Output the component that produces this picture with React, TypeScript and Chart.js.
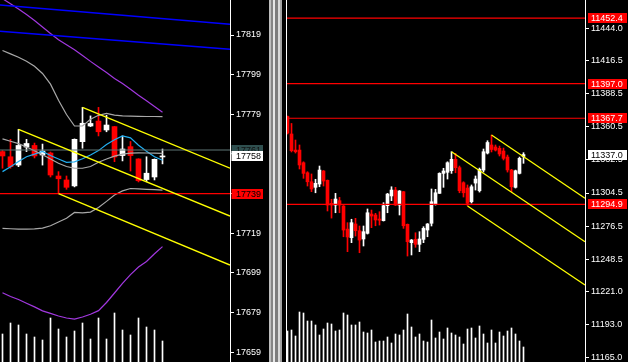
import React, { useEffect, useRef } from "react";
import { Chart, registerables } from "chart.js";

Chart.register(...registerables);

// ---------------- Left pane (17xxx) ----------------
const leftOpen = [17760.2, 17757.6, 17753.4, 17762.5, 17763.3, 17758.5, 17759.5, 17747.9, 17745.9, 17742.9, 17765.2, 17773.1, 17775.6, 17771.1, 17772.8, 17758.2, 17762.7, 17756.5, 17746.1, 17747.4, 17757.5];
const leftHigh = [17760.7, 17766.4, 17771.4, 17766.4, 17764.5, 17764.0, 17760.0, 17750.1, 17747.9, 17766.6, 17782.5, 17778.2, 17782.5, 17778.5, 17772.9, 17768.1, 17765.3, 17756.6, 17757.6, 17756.5, 17761.5];
const leftLow = [17751.8, 17751.8, 17752.6, 17760.2, 17757.0, 17753.4, 17747.4, 17739.0, 17741.2, 17742.4, 17761.9, 17772.8, 17768.1, 17770.2, 17755.1, 17755.5, 17750.4, 17744.9, 17745.0, 17745.9, 17754.0];
const leftClose = [17758.0, 17752.6, 17763.3, 17764.3, 17758.0, 17760.5, 17748.4, 17746.5, 17742.2, 17766.4, 17774.5, 17774.4, 17770.2, 17773.6, 17757.5, 17761.5, 17758.2, 17745.5, 17749.3, 17756.3, 17758.0];
const leftVolume = [280, 390, 370, 280, 250, 220, 440, 330, 250, 310, 390, 230, 440, 230, 490, 320, 270, 440, 350, 320, 210];
const leftCyan = [17750.1, 17752.6, 17755.2, 17757.6, 17758.9, 17760.3, 17758.2, 17756.5, 17754.8, 17755.0, 17756.6, 17758.5, 17760.7, 17763.8, 17766.2, 17768.1, 17767.1, 17763.4, 17760.4, 17757.6, 17755.8];
const leftGrayMid = [17766.6, 17765.4, 17764.2, 17762.5, 17760.6, 17758.6, 17756.5, 17754.3, 17752.7, 17751.8, 17751.8, 17752.7, 17754.8, 17756.5, 17757.9, 17758.9, 17759.4, 17759.6, 17759.5, 17759.4, 17759.3];
const leftGrayUp = [17811.2, 17809.5, 17807.8, 17805.8, 17803.2, 17799.6, 17794.2, 17786.1, 17778.9, 17773.1, 17773.1, 17776.5, 17778.5, 17779.5, 17778.6, 17778.2, 17778.1, 17778.0, 17777.9, 17777.9, 17777.8];
const leftGrayLow = [17721.5, 17721.3, 17721.1, 17721.1, 17721.2, 17721.6, 17722.8, 17724.7, 17726.6, 17729.5, 17729.3, 17729.7, 17732.0, 17735.1, 17738.3, 17740.4, 17741.6, 17741.4, 17741.2, 17741.0, 17740.8];
const leftPurpleUp = [17837.3, 17834.8, 17832.1, 17829.3, 17826.3, 17823.0, 17819.8, 17816.6, 17814.1, 17811.6, 17808.7, 17805.7, 17802.9, 17800.1, 17797.1, 17794.5, 17791.6, 17788.6, 17785.9, 17783.0, 17780.0];
const leftPurpleLow = [17689.0, 17687.1, 17685.6, 17683.7, 17681.9, 17679.9, 17678.6, 17677.3, 17676.3, 17675.7, 17676.8, 17678.2, 17680.0, 17684.1, 17688.9, 17693.8, 17698.2, 17702.0, 17704.8, 17708.7, 17712.3];
const leftBlueStart = [17834.1, 17820.9];
const leftBlueEnd = [17824.4, 17811.8];
const leftTicks = [17659, 17679, 17699, 17719, 17739, 17759, 17779, 17799, 17819];
const leftChannelStartIndex = [2, 7, 10];
const leftChannelStartPrice = [17771.4, 17739.0, 17782.5];
const leftChannelEndPrice = [17727.7, 17703.0, 17751.8];
const leftLevelPrices = [17761, 17739];
const leftLevelColors = ["#5e7676", "#ff0000"];
const leftBoxPrices = [17761, 17758, 17739];
const leftBoxBg = ["#2f4f4f", "#ffffff", "#ff0000"];
const leftBoxFg = ["#111111", "#000000", "#000000"];

// ---------------- Right pane (11xxx) ----------------
const rightOpen = [11369.2, 11354.4, 11340.8, 11340.8, 11330.1, 11321.6, 11314.0, 11309.3, 11312.1, 11323.1, 11315.2, 11295.8, 11294.3, 11298.0, 11293.5, 11274.0, 11266.7, 11278.3, 11272.6, 11265.6, 11270.4, 11286.7, 11285.9, 11282.5, 11281.1, 11293.8, 11302.0, 11307.0, 11294.3, 11305.6, 11278.0, 11262.5, 11265.3, 11261.1, 11265.3, 11273.2, 11278.9, 11295.2, 11304.2, 11321.1, 11322.0, 11323.4, 11333.0, 11325.9, 11313.2, 11308.7, 11297.1, 11312.9, 11306.4, 11323.9, 11338.3, 11345.1, 11343.4, 11342.3, 11340.0, 11334.9, 11323.9, 11309.3, 11321.1, 11335.4];
const rightHigh = [11369.6, 11363.3, 11349.3, 11345.1, 11330.9, 11322.5, 11320.6, 11316.1, 11327.3, 11323.5, 11315.5, 11299.2, 11304.2, 11300.8, 11293.9, 11279.4, 11282.3, 11283.1, 11276.6, 11276.6, 11291.0, 11290.1, 11287.3, 11288.7, 11296.3, 11304.2, 11309.8, 11309.3, 11306.6, 11305.8, 11278.3, 11265.2, 11270.9, 11271.8, 11276.0, 11278.7, 11307.9, 11307.6, 11321.6, 11325.4, 11330.9, 11339.4, 11338.0, 11327.3, 11314.0, 11311.3, 11311.3, 11318.9, 11325.6, 11341.7, 11348.7, 11353.5, 11345.1, 11344.2, 11342.5, 11336.6, 11324.5, 11323.9, 11334.9, 11338.6];
const rightLow = [11354.4, 11339.2, 11338.3, 11324.8, 11316.9, 11310.4, 11305.6, 11304.7, 11309.8, 11310.4, 11289.3, 11283.3, 11287.8, 11287.8, 11267.5, 11254.9, 11262.5, 11268.1, 11254.0, 11259.7, 11269.8, 11275.2, 11276.8, 11277.4, 11280.8, 11287.8, 11298.0, 11293.9, 11285.9, 11274.6, 11251.2, 11252.1, 11258.6, 11254.9, 11262.5, 11267.5, 11276.6, 11294.3, 11304.1, 11309.3, 11316.3, 11321.1, 11321.6, 11304.7, 11301.1, 11293.9, 11296.0, 11307.0, 11305.3, 11322.2, 11337.5, 11339.2, 11340.0, 11335.8, 11332.4, 11322.2, 11305.6, 11308.7, 11320.6, 11329.6];
const rightClose = [11355.2, 11340.3, 11339.4, 11328.2, 11321.1, 11314.0, 11307.9, 11312.7, 11323.9, 11314.6, 11294.3, 11294.3, 11299.4, 11294.3, 11273.2, 11267.3, 11279.4, 11272.6, 11264.7, 11271.8, 11287.8, 11285.0, 11281.7, 11281.5, 11293.8, 11303.6, 11307.0, 11294.3, 11306.2, 11276.8, 11263.3, 11264.7, 11261.1, 11265.6, 11274.6, 11278.3, 11297.1, 11304.7, 11321.1, 11323.1, 11330.1, 11333.0, 11325.9, 11306.4, 11304.7, 11295.8, 11309.8, 11316.3, 11324.5, 11339.4, 11347.2, 11341.3, 11340.8, 11337.5, 11333.8, 11324.0, 11309.8, 11323.3, 11333.8, 11337.0];
const rightVolume = [310, 320, 260, 500, 490, 410, 410, 370, 270, 330, 390, 380, 310, 320, 490, 470, 370, 370, 400, 300, 290, 320, 200, 210, 210, 250, 190, 280, 270, 320, 480, 350, 250, 280, 210, 200, 420, 240, 300, 230, 340, 290, 270, 250, 180, 330, 340, 240, 360, 280, 190, 320, 190, 300, 260, 310, 340, 280, 210, 150];
const rightTicks = [11165.0, 11193.0, 11221.0, 11248.5, 11276.5, 11304.5, 11332.5, 11360.5, 11388.5, 11416.5, 11444.0];
const rightChannelStartIndex = [41, 51, 45];
const rightChannelStartPrice = [11339.4, 11353.5, 11293.5];
const rightChannelEndPrice = [11263.3, 11300.0, 11226.7];
const rightLevelPrices = [11452.4, 11397.0, 11367.7, 11294.9];
const rightBoxPrices = [11452.4, 11397.0, 11367.7, 11337.0, 11294.9];
const rightBoxBg = ["#ff0000", "#ff0000", "#ff0000", "#ffffff", "#ff0000"];
const rightBoxFg = ["#ffffff", "#ffffff", "#ffffff", "#000000", "#ffffff"];

const FONT = '"Liberation Sans", Arial, sans-serif';
const FONT_SIZE = 9;

type Pane = {
  open: number[]; high: number[]; low: number[]; close: number[]; volume: number[];
  xMin: number; xMax: number; yMin: number; yMax: number; volMax: number;
  axisWidth: number; bodyWidth: number; ticks: number[]; decimals: number;
  lines: { values: number[]; color: string }[];
  straight: { start: number; end: number; color: string }[];
  channels: { idx: number[]; sp: number[]; ep: number[] };
  levels: { prices: number[]; colors: string[] };
  boxes: { prices: number[]; bg: string[]; fg: string[]; x: number; w: number };
  leftBorder: boolean;
};

function buildConfig(p: Pane): any {
  const idx = p.open.map((_, i) => i);
  const col = idx.map((i) => (p.close[i] >= p.open[i] ? "#ffffff" : "#ff0000"));
  const datasets: any[] = [];
  datasets.push({
    type: "bar", yAxisID: "v", order: 20, grouped: false, barThickness: 1,
    backgroundColor: "#ffffff", borderWidth: 0,
    data: idx.map((i) => ({ x: i, y: p.volume[i] })),
  });
  datasets.push({
    type: "bar", yAxisID: "y", order: 11, grouped: false, barThickness: 1,
    backgroundColor: col, borderWidth: 0, minBarLength: 1,
    data: idx.map((i) => ({ x: i, y: [p.low[i], p.high[i]] })),
  });
  datasets.push({
    type: "bar", yAxisID: "y", order: 10, grouped: false, barThickness: p.bodyWidth,
    backgroundColor: col, borderWidth: 0, minBarLength: 1,
    data: idx.map((i) => ({ x: i, y: [p.open[i], p.close[i]] })),
  });
  const lineBase = { type: "line", yAxisID: "y", borderWidth: 1.2, pointRadius: 0, tension: 0, fill: false };
  p.lines.forEach((l, k) => {
    datasets.push({ ...lineBase, order: 5 + k * 0.01, borderColor: l.color, data: idx.map((i) => ({ x: i, y: l.values[i] })) });
  });
  p.straight.forEach((s) => {
    datasets.push({ ...lineBase, borderWidth: 1.4, order: 4, borderColor: s.color, data: [{ x: p.xMin, y: s.start }, { x: p.xMax, y: s.end }] });
  });
  p.levels.prices.forEach((v, k) => {
    datasets.push({ ...lineBase, order: 3, borderColor: p.levels.colors[k], data: [{ x: p.xMin, y: v }, { x: p.xMax, y: v }] });
  });
  p.channels.idx.forEach((s, k) => {
    datasets.push({ ...lineBase, borderWidth: 1.3, order: 2, borderColor: "#ffff00", data: [{ x: s, y: p.channels.sp[k] }, { x: p.xMax, y: p.channels.ep[k] }] });
  });

  const overlay = {
    id: "overlay",
    afterDraw(chart: any) {
      const ctx = chart.ctx;
      const ys = chart.scales.y;
      const area = chart.chartArea;
      ctx.save();
      if (p.leftBorder) {
        ctx.strokeStyle = "#ffffff";
        ctx.lineWidth = 1;
        ctx.beginPath();
        ctx.moveTo(area.left + 0.5, 0);
        ctx.lineTo(area.left + 0.5, chart.height);
        ctx.stroke();
      }
      ctx.font = `${FONT_SIZE}px ${FONT}`;
      ctx.textBaseline = "middle";
      ctx.textAlign = "left";
      p.boxes.prices.forEach((v, k) => {
        const y = ys.getPixelForValue(v);
        const top = Math.round(y) - 5;
        ctx.fillStyle = p.boxes.bg[k];
        ctx.fillRect(ys.left + p.boxes.x, top, p.boxes.w, 10);
        ctx.fillStyle = p.boxes.fg[k];
        ctx.fillText(v.toFixed(p.decimals), ys.left + 6, top + 5.5);
      });
      ctx.restore();
    },
  };

  return {
    type: "bar",
    data: { datasets },
    plugins: [overlay],
    options: {
      animation: false,
      responsive: false,
      devicePixelRatio: 1,
      events: [],
      layout: { padding: 0 },
      plugins: { legend: { display: false }, tooltip: { enabled: false } },
      scales: {
        x: { type: "linear", min: p.xMin, max: p.xMax, display: false, offset: false },
        v: { type: "linear", display: false, min: 0, max: p.volMax },
        y: {
          type: "linear",
          position: "right",
          min: p.yMin,
          max: p.yMax,
          afterBuildTicks: (s: any) => { s.ticks = p.ticks.map((v) => ({ value: v })); },
          afterFit: (s: any) => { s.width = p.axisWidth; s.paddingTop = 0; s.paddingBottom = 0; },
          border: { display: true, color: "#ffffff", width: 1 },
          grid: { drawOnChartArea: false, drawTicks: true, tickLength: 4, color: "#ffffff", lineWidth: 1 },
          ticks: {
            autoSkip: false,
            color: "#ffffff",
            padding: 2,
            font: { family: FONT, size: FONT_SIZE },
            callback: (v: any) => Number(v).toFixed(p.decimals),
          },
        },
      },
    },
  };
}

const leftPane: Pane = {
  open: leftOpen, high: leftHigh, low: leftLow, close: leftClose, volume: leftVolume,
  xMin: -0.3125, xMax: -0.3125 + 230 / 8, yMin: 17654.1, yMax: 17836.65, volMax: 3620,
  axisWidth: 38, bodyWidth: 5, ticks: leftTicks, decimals: 0,
  lines: [
    { values: leftPurpleUp, color: "#a238e0" },
    { values: leftPurpleLow, color: "#a238e0" },
    { values: leftGrayUp, color: "#a8a8a8" },
    { values: leftGrayMid, color: "#a8a8a8" },
    { values: leftGrayLow, color: "#a8a8a8" },
    { values: leftCyan, color: "#22aef0" },
  ],
  straight: leftBlueStart.map((s, k) => ({ start: s, end: leftBlueEnd[k], color: "#0000ff" })),
  channels: { idx: leftChannelStartIndex, sp: leftChannelStartPrice, ep: leftChannelEndPrice },
  levels: { prices: leftLevelPrices, colors: leftLevelColors },
  boxes: { prices: leftBoxPrices, bg: leftBoxBg, fg: leftBoxFg, x: 1.5, w: 31.5 },
  leftBorder: false,
};

const rightPane: Pane = {
  open: rightOpen, high: rightHigh, low: rightLow, close: rightClose, volume: rightVolume,
  xMin: -0.375, xMax: -0.375 + 299 / 4, yMin: 11161.6, yMax: 11467.7, volMax: 3620,
  axisWidth: 43, bodyWidth: 3, ticks: rightTicks, decimals: 1,
  lines: [],
  straight: [],
  channels: { idx: rightChannelStartIndex, sp: rightChannelStartPrice, ep: rightChannelEndPrice },
  levels: { prices: rightLevelPrices, colors: rightLevelPrices.map(() => "#ff0000") },
  boxes: { prices: rightBoxPrices, bg: rightBoxBg, fg: rightBoxFg, x: 3, w: 39 },
  leftBorder: true,
};

export default function App() {
  const leftRef = useRef<HTMLCanvasElement>(null);
  const rightRef = useRef<HTMLCanvasElement>(null);
  useEffect(() => {
    const l = new Chart(leftRef.current as HTMLCanvasElement, buildConfig(leftPane));
    const r = new Chart(rightRef.current as HTMLCanvasElement, buildConfig(rightPane));
    return () => { l.destroy(); r.destroy(); };
  }, []);
  const sep =
    "linear-gradient(to right, #000 0px, #000 0.5px, #bdbdbd 0.5px, #bdbdbd 2.5px, #858585 2.5px, #858585 5px, #e6e6e6 5px, #e6e6e6 7.5px, #7c7c7c 7.5px, #7c7c7c 10px, #d9d9d9 10px, #d9d9d9 12px, #a3a3a3 12px, #a3a3a3 14px, #000 14px, #000 18px)";
  return (
    <div style={{ position: "fixed", left: 0, top: 0, width: 628, height: 362, background: "#000", overflow: "hidden" }}>
      <canvas ref={leftRef} width={268} height={362} style={{ position: "absolute", left: 0, top: 0, width: 268, height: 362 }} />
      <div style={{ position: "absolute", left: 268, top: 0, width: 18, height: 362, background: sep }} />
      <canvas ref={rightRef} width={342} height={362} style={{ position: "absolute", left: 286, top: 0, width: 342, height: 362 }} />
    </div>
  );
}
